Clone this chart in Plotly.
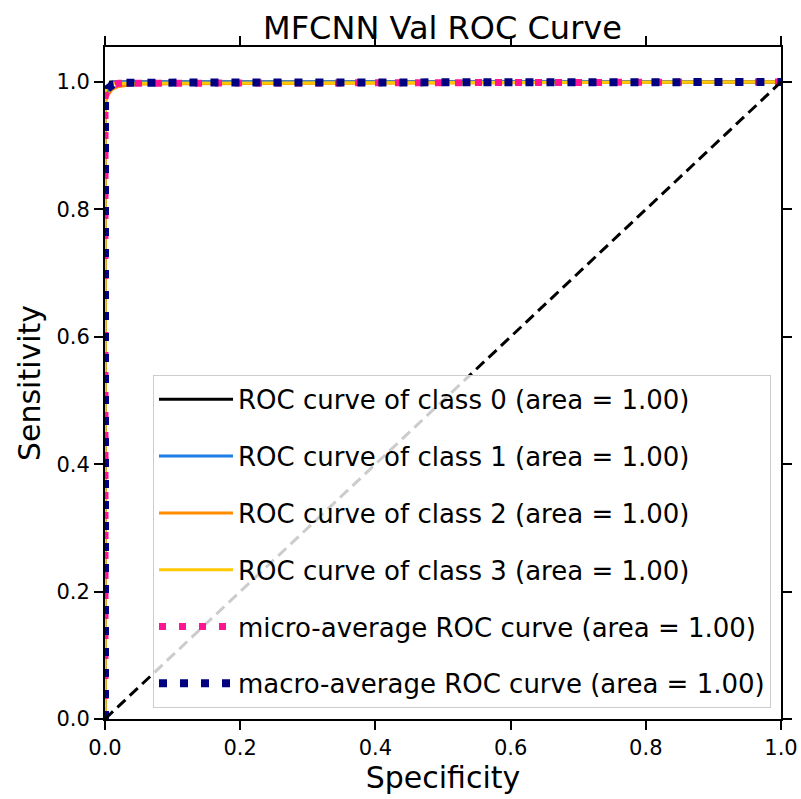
import plotly.graph_objects as go

# ---- data ----
class_names = ["ROC curve of class 0 (area = 1.00)",
               "ROC curve of class 1 (area = 1.00)",
               "ROC curve of class 2 (area = 1.00)",
               "ROC curve of class 3 (area = 1.00)"]
fpr_c0 = [0.0, 0.0, 0.004, 0.008, 1.0]
tpr_c0 = [0.0, 0.975, 0.99, 1.0, 1.0]
fpr_c1 = [0.0, 0.0, 0.003, 0.006, 0.015, 1.0]
tpr_c1 = [0.0, 0.96, 0.985, 0.995, 1.0, 1.0]
fpr_c2 = [0.0, 0.0, 0.005, 0.01, 0.02, 0.05, 1.0]
tpr_c2 = [0.0, 0.97, 0.98, 0.988, 0.993, 0.997, 1.0]
fpr_c3 = [0.0, 0.0, 0.006, 0.012, 1.0]
tpr_c3 = [0.0, 0.985, 0.995, 0.998, 1.0]
fpr_micro = [0.0, 0.0, 0.003, 0.01, 0.02, 1.0]
tpr_micro = [0.0, 0.975, 0.99, 0.995, 0.998, 1.0]
fpr_macro = [0.0, 0.0, 0.004, 0.012, 0.03, 1.0]
tpr_macro = [0.0, 0.97, 0.99, 0.996, 0.999, 1.0]
diag = [0.0, 1.0]
micro_name = "micro-average ROC curve (area = 1.00)"
macro_name = "macro-average ROC curve (area = 1.00)"
tick_vals = [0.0, 0.2, 0.4, 0.6, 0.8, 1.0]
tick_text = ["0.0", "0.2", "0.4", "0.6", "0.8", "1.0"]

FONT = "DejaVu Sans, Verdana, sans-serif"
colors = ["#000000", "#1a7ee6", "#ff8c00", "#ffc800"]

fig = go.Figure()
curves = [(fpr_c0, tpr_c0), (fpr_c1, tpr_c1), (fpr_c2, tpr_c2), (fpr_c3, tpr_c3)]
for i, ((fx, ty), nm) in enumerate(zip(curves, class_names)):
    fig.add_trace(go.Scatter(x=fx, y=ty, mode="lines", name=nm, legendgroup=f"g{i}",
                             line=dict(color=colors[i], width=3)))
fig.add_trace(go.Scatter(x=fpr_micro, y=tpr_micro, mode="lines", name=micro_name, legendgroup="g4",
                         line=dict(color="#ff1493", width=7, dash="7px,13px")))
fig.add_trace(go.Scatter(x=fpr_macro, y=tpr_macro, mode="lines", name=macro_name, legendgroup="g5",
                         line=dict(color="#000080", width=8, dash="8px,13px")))
fig.add_trace(go.Scatter(x=diag, y=diag, mode="lines", showlegend=False,
                         line=dict(color="black", width=3, dash="11px,6px")))

axis_common = dict(showline=True, linecolor="black", linewidth=2, mirror="ticks",
                   ticks="outside", ticklen=9, tickwidth=2, tickcolor="black",
                   showgrid=False, zeroline=False, tickvals=tick_vals, ticktext=tick_text,
                   automargin=False,
                   tickfont=dict(family=FONT, size=21, color="black"))

W, H = 801, 799
fig.update_layout(
    width=W, height=H,
    margin=dict(l=105, r=20, t=47, b=80),
    paper_bgcolor="white", plot_bgcolor="white",
    title=dict(text="MFCNN Val ROC Curve", x=442.5 / W, xanchor="center", y=1 - 28 / H, yanchor="middle",
               font=dict(family=FONT, size=32, color="black"), automargin=False),
    xaxis=dict(range=[0, 1.0], title=dict(text="Specificity", standoff=4,
               font=dict(family=FONT, size=30, color="black")), **axis_common),
    yaxis=dict(range=[0, 1.055], title=dict(text="Sensitivity", standoff=7,
               font=dict(family=FONT, size=30, color="black")), **axis_common),
    legend=dict(x=0.071, y=0.0165, xanchor="left", yanchor="bottom",
                bgcolor="rgba(255,255,255,0.8)", bordercolor="#cccccc", borderwidth=1,
                font=dict(family=FONT, size=26, color="black"), tracegroupgap=20,
                traceorder="grouped", itemwidth=74),
    showlegend=True,
)

fig.write_html("out.html", config={"displayModeBar": False},
               post_script="document.body.style.margin='0';document.body.style.overflow='hidden';")
